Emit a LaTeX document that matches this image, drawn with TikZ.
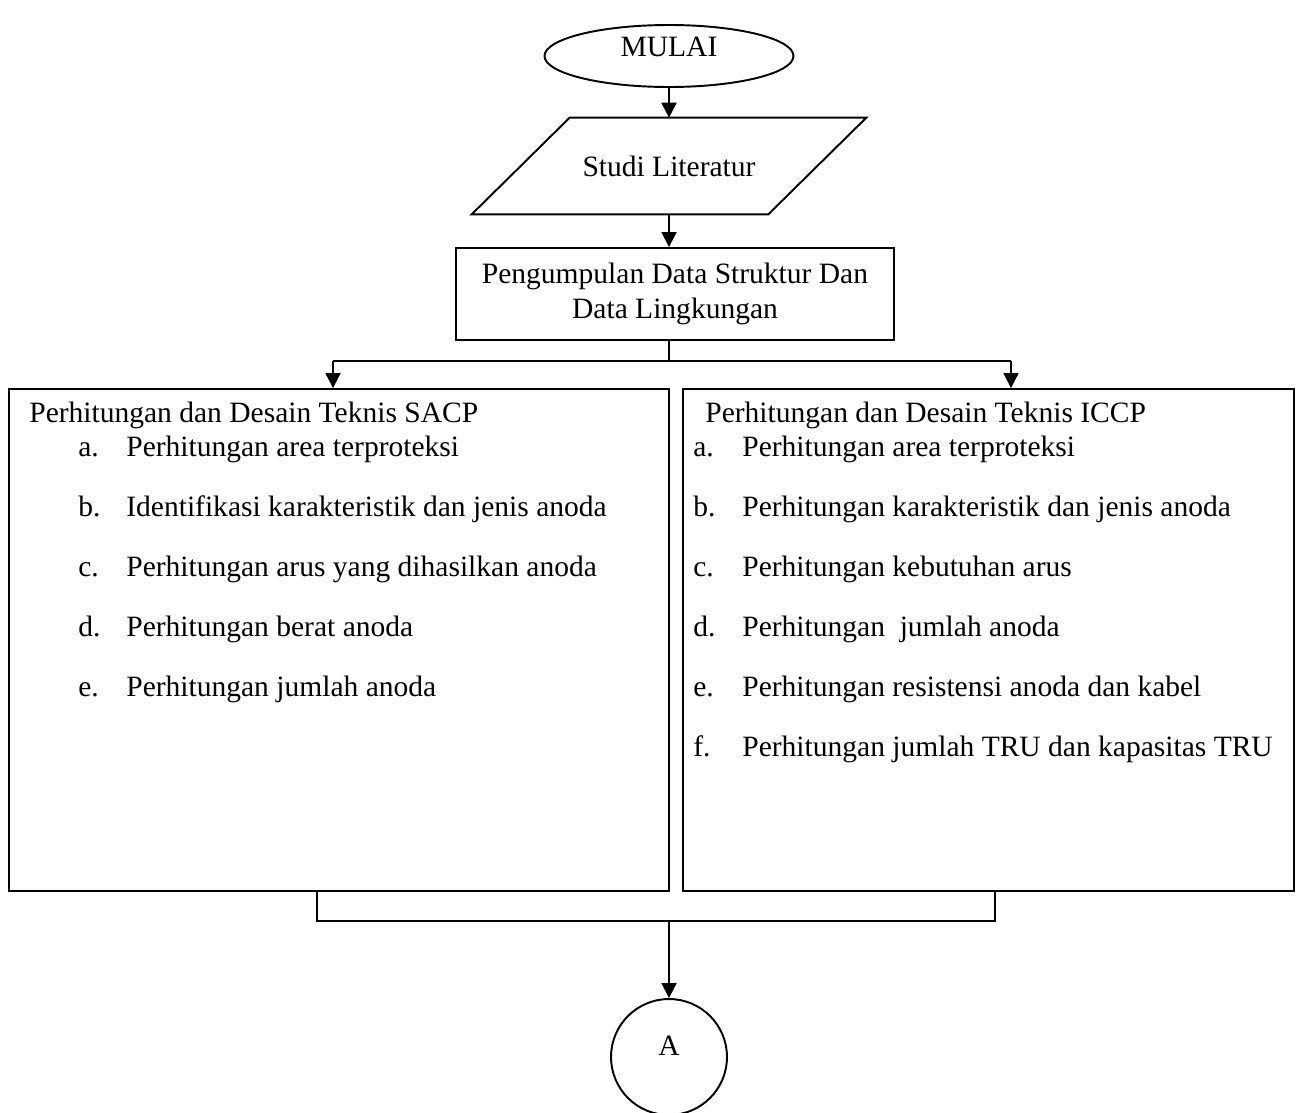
\documentclass[tikz,border=0pt]{standalone}
\usepackage{fontspec}
\setmainfont{Liberation Serif}
\usetikzlibrary{shapes.geometric,arrows.meta}
\tikzset{
  garis/.style={line width=1.1pt},
  panah/.style={garis,-{Triangle[length=8.5pt,width=8.5pt]}},
  kotak/.style={draw,garis,rectangle,align=center},
  teks/.style={anchor=west,inner sep=0pt,text height=0.7em,text depth=0.22em},
}
\begin{document}
\begin{tikzpicture}[x=0.02cm,y=-0.02cm,font=\fontsize{16.8}{19.6}\selectfont]
  \fill[white] (0,0) rectangle (1301,1112);
  \useasboundingbox (0,0) rectangle (1301,1112);
  % alur atas
  \node[draw,garis,ellipse,inner sep=0pt,text height=0.7em,text depth=0.65em,
    minimum width=4.98cm,minimum height=1.24cm] (mulai) at (669,56) {MULAI};
  \node[minimum width=5.92cm,minimum height=1.92cm] (studi) at (669,166) {Studi Literatur};
  \draw[garis] ([xshift=0.98cm]studi.north west) -- ([xshift=0.98cm]studi.north east)
    -- ([xshift=-0.98cm]studi.south east) -- ([xshift=-0.98cm]studi.south west) -- cycle;
  \node[kotak,minimum width=8.76cm,minimum height=1.84cm] (data) at (675,294) {Pengumpulan Data Struktur Dan\\Data Lingkungan};
  \draw[panah] (mulai.south) -- (studi.north);
  \draw[panah] (studi.south) -- (studi.south |- data.north);
  % dua kotak perhitungan
  \node[kotak,minimum width=13.2cm,minimum height=10.04cm] (sacp) at (339,640) {};
  \node[kotak,minimum width=12.22cm,minimum height=10.04cm] (iccp) at (988.5,640) {};
  \coordinate (cabang) at (669,361);
  \coordinate (kiri) at (333,361);
  \coordinate (kanan) at (1011,361);
  \draw[garis] (cabang |- data.south) -- (cabang);
  \draw[garis] (kiri) -- (kanan);
  \draw[panah] (kiri) -- (kiri |- sacp.north);
  \draw[panah] (kanan) -- (kanan |- iccp.north);
  % isi SACP
  \node[teks] (sjudul) at (29,418) {Perhitungan dan Desain Teknis SACP};
  \foreach \huruf/\isi [count=\i] in {a/Perhitungan area terproteksi,
      b/Identifikasi karakteristik dan jenis anoda,
      c/Perhitungan arus yang dihasilkan anoda,
      d/Perhitungan berat anoda,
      e/Perhitungan jumlah anoda} {
    \node[teks] (sh\i) at (78,{392+60*\i}) {\huruf.};
    \node[teks] (si\i) at (126,{392+60*\i}) {\isi};
  }
  % isi ICCP
  \node[teks] (ijudul) at (705,418) {Perhitungan dan Desain Teknis ICCP};
  \foreach \huruf/\isi [count=\i] in {a/Perhitungan area terproteksi,
      b/Perhitungan karakteristik dan jenis anoda,
      c/Perhitungan kebutuhan arus,
      d/Perhitungan~ jumlah anoda,
      e/Perhitungan resistensi anoda dan kabel,
      f/Perhitungan jumlah TRU dan kapasitas TRU} {
    \node[teks] (ih\i) at (693,{392+60*\i}) {\huruf.};
    \node[teks] (ii\i) at (742,{392+60*\i}) {\isi};
  }
  % gabung ke A
  \node[draw,garis,circle,inner sep=0pt,text height=0.7em,text depth=0.86em,
    minimum size=2.32cm] (a) at (669,1057) {A};
  \coordinate (bkiri) at (317,921);
  \coordinate (bkanan) at (995,921);
  \coordinate (gabung) at (669,921);
  \draw[garis] (bkiri |- sacp.south) -- (bkiri) -- (bkanan) -- (bkanan |- iccp.south);
  \draw[panah] (gabung) -- (gabung |- a.north);
\end{tikzpicture}
\end{document}
